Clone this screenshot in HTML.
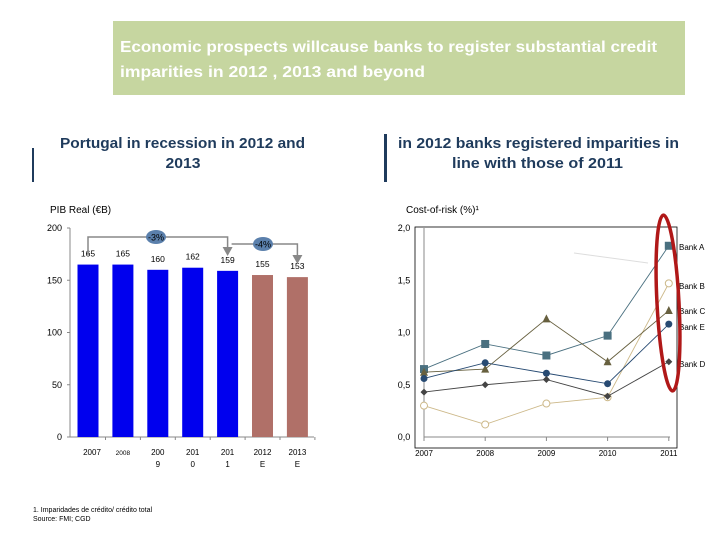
<!DOCTYPE html>
<html><head><meta charset="utf-8"><style>
body{margin:0;background:#fff;}
#root{position:relative;width:720px;height:540px;overflow:hidden;font-family:"Liberation Sans",sans-serif;}
.hdr{position:absolute;left:113px;top:21px;width:572px;height:74px;background:#c6d6a0;}
.vb{position:absolute;background:#1f3b5c;}
</style></head><body>
<div id="root">
<div class="hdr"></div>
<div class="vb" style="left:32px;top:148px;width:2px;height:34px"></div>
<div class="vb" style="left:384px;top:134px;width:3px;height:48px"></div>
<svg width="720" height="540" style="position:absolute;left:0;top:0" font-family="Liberation Sans, sans-serif" font-weight="bold">
<text x="120" y="52" font-size="16" fill="#fff" textLength="537" lengthAdjust="spacingAndGlyphs">Economic prospects willcause banks to register substantial credit</text>
<text x="120" y="77" font-size="16" fill="#fff" textLength="305" lengthAdjust="spacingAndGlyphs">imparities in 2012 , 2013 and beyond</text>
<text x="60" y="148" font-size="15" fill="#1f3b5c" textLength="245" lengthAdjust="spacingAndGlyphs">Portugal in recession in 2012 and</text>
<text x="183" y="168" font-size="15" fill="#1f3b5c" text-anchor="middle" textLength="35" lengthAdjust="spacingAndGlyphs">2013</text>
<text x="398" y="148" font-size="15" fill="#1f3b5c" textLength="281" lengthAdjust="spacingAndGlyphs">in 2012 banks registered imparities in</text>
<text x="452" y="168" font-size="15" fill="#1f3b5c" textLength="171" lengthAdjust="spacingAndGlyphs">line with those of 2011</text>
</svg>
<svg id="chart" width="720" height="540" style="position:absolute;left:0;top:0" font-family="Liberation Sans, sans-serif"></svg>
</div>
<script>
const barCats=["2007","2008","2009","2010","2011","2012E","2013E"];
const barCatLines=[["2007"],["2008"],["200","9"],["201","0"],["201","1"],["2012","E"],["2013","E"]];
const barVals=[165,165,160,162,159,155,153];
const barForecast=[false,false,false,false,false,true,true];
const barTicks=[0,50,100,150,200];

const lineYears=["2007","2008","2009","2010","2011"];
const bankA=[0.65,0.89,0.78,0.97,1.83];
const bankB=[0.30,0.12,0.32,0.38,1.47];
const bankC=[0.62,0.65,1.13,0.72,1.21];
const bankE=[0.56,0.71,0.61,0.51,1.08];
const bankD=[0.43,0.50,0.55,0.39,0.72];
const lineTicks=[0,0.5,1.0,1.5,2.0];
const tickLabels=["0,0","0,5","1,0","1,5","2,0"];

const NS="http://www.w3.org/2000/svg";
const svg=document.getElementById('chart');
function mk(t,a,p){const e=document.createElementNS(NS,t);for(const k in a)e.setAttribute(k,a[k]);(p||svg).appendChild(e);return e;}
function tx(x,y,s,size,anchor,fill){const e=mk('text',{x:x,y:y,'font-size':size,'text-anchor':anchor||'middle',fill:fill||'#000'});e.textContent=s;return e;}

// ---- bar chart ----
const by=v=>437-v*209/200;
const bx=i=>88+i*34.9;
const t1=tx(50,213,"PIB  Real (€B)",10,'start');

mk('line',{x1:70,y1:228,x2:70,y2:437,stroke:'#888'});
mk('line',{x1:70,y1:437,x2:314,y2:437,stroke:'#888'});
barTicks.forEach(v=>{mk('line',{x1:67,y1:by(v),x2:70,y2:by(v),stroke:'#888'});
 const t=tx(62,by(v)+3,String(v),9,'end');});
barCats.forEach((c,i)=>{
 mk('line',{x1:bx(i)+17.5,y1:437,x2:bx(i)+17.5,y2:440,stroke:'#888'});
 const r=mk('rect',{x:bx(i)-10.5,y:by(barVals[i]),width:21,height:437-by(barVals[i]),fill:barForecast[i]?'#b07068':'#0000ee'});
 
 
 const l=tx(bx(i),by(barVals[i])-8,String(barVals[i]),8.5);
 
 barCatLines[i].forEach((s,k)=>{const t=tx(bx(i)+(i==0?4:0),455+k*12,s,i==1?6.5:8);
  });
});
const g='#888';
mk('polyline',{points:`${bx(0)},255 ${bx(0)},237 ${bx(4)},237 ${bx(4)},250`,fill:'none',stroke:g,'stroke-width':1.5});
mk('polygon',{points:`${bx(4)-5},247 ${bx(4)+5},247 ${bx(4)},256`,fill:g});
mk('polyline',{points:`${bx(4)+4},244 ${bx(6)},244 ${bx(6)},258`,fill:'none',stroke:g,'stroke-width':1.5});
mk('polygon',{points:`${bx(6)-5},255 ${bx(6)+5},255 ${bx(6)},264`,fill:g});
const o1=mk('ellipse',{cx:156,cy:237,rx:10,ry:7,fill:'#5b80ac'});
tx(156,240.5,"-3%",9);
const o2=mk('ellipse',{cx:263,cy:244,rx:10,ry:7,fill:'#5b80ac'});
tx(263,247.5,"-4%",9);

// ---- line chart ----
const ly=v=>437-v*209/2;
const lx=i=>424+i*61.2;
const t2=tx(406,213,"Cost-of-risk (%)¹",10,'start');

mk('rect',{x:415,y:227,width:262,height:221,fill:'none',stroke:'#000','stroke-width':0.8});
mk('line',{x1:424,y1:228,x2:424,y2:437,stroke:'#888'});
mk('line',{x1:424,y1:437,x2:670,y2:437,stroke:'#888'});
lineTicks.forEach((v,i)=>{const t=tx(404,ly(v)+3,tickLabels[i],9,'middle');});
lineYears.forEach((y,i)=>{mk('line',{x1:lx(i),y1:437,x2:lx(i),y2:441,stroke:'#888'});
 const t=tx(lx(i),456,y,8);});
mk('line',{x1:574,y1:253,x2:648,y2:263,stroke:'#ddd'});
const series=[
 {n:'Bank A',d:bankA,c:'#4a7080',m:'sq',ly:247},
 {n:'Bank B',d:bankB,c:'#cdb98a',m:'oc',ly:286},
 {n:'Bank C',d:bankC,c:'#67603f',m:'tr',ly:311},
 {n:'Bank E',d:bankE,c:'#274a72',m:'ci',ly:327},
 {n:'Bank D',d:bankD,c:'#444',m:'di',ly:364}];
series.forEach(s=>{
 const p=mk('polyline',{points:s.d.map((v,i)=>lx(i)+','+ly(v)).join(' '),fill:'none',stroke:s.c,'stroke-width':0.9});
 
 
 s.d.forEach((v,i)=>{const x=lx(i),y=ly(v);let e;
  if(s.m=='sq')e=mk('rect',{x:x-4,y:y-4,width:8,height:8,fill:s.c});
  else if(s.m=='oc')e=mk('circle',{cx:x,cy:y,r:3.5,fill:'#fff',stroke:s.c});
  else if(s.m=='tr')e=mk('polygon',{points:`${x-4},${y+3.5} ${x+4},${y+3.5} ${x},${y-4.5}`,fill:s.c});
  else if(s.m=='ci')e=mk('circle',{cx:x,cy:y,r:3.5,fill:s.c});
  else e=mk('polygon',{points:`${x},${y-3.5} ${x+3.5},${y} ${x},${y+3.5} ${x-3.5},${y}`,fill:s.c});
  
  });
 const t=tx(679,s.ly+3,s.n,8,'start');
});
const ov=mk('ellipse',{cx:668,cy:303,rx:11,ry:88,fill:'none',stroke:'#b01818','stroke-width':3.5,transform:'rotate(-3 668 303)'});


const f1=tx(33,512,"1. Imparidades de crédito/ crédito total",7,'start');

const f2=tx(33,521,"Source: FMI; CGD",7,'start');

</script>
</body></html>
